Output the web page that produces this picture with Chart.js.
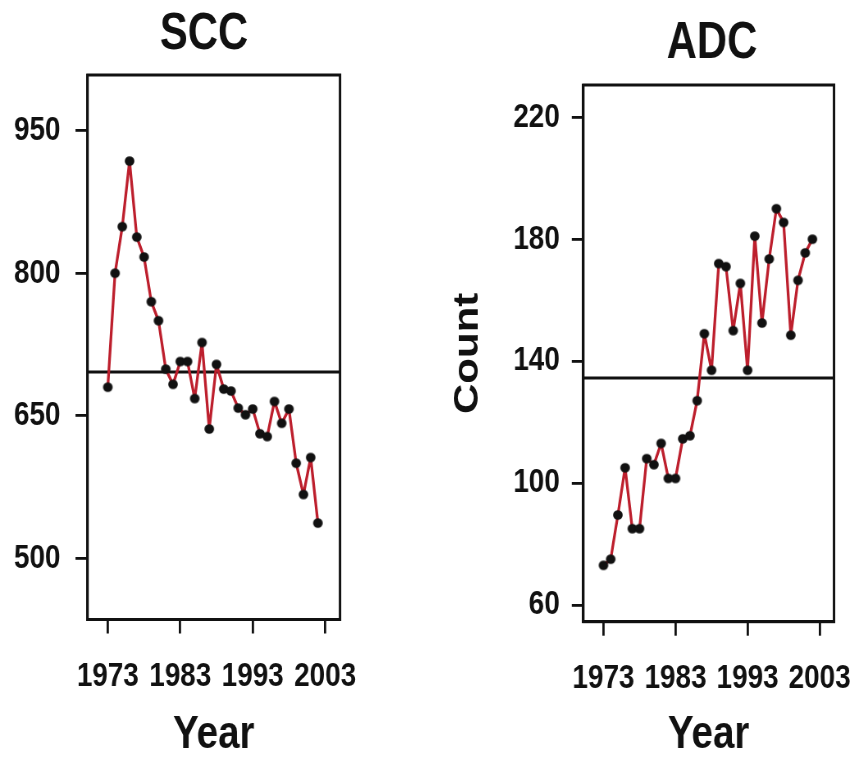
<!DOCTYPE html>
<html lang="en">
<head>
    <meta charset="UTF-8">
    <title>SCC and ADC counts by year</title>
    <style>
        body {
            margin: 0;
            background: #fff;
            overflow: hidden;
        }
        /* the original figure is horizontally compressed: draw wide, squeeze with CSS */
        .panel {
            position: absolute;
            top: 0;
            width: 520px;
            height: 757px;
            transform-origin: 0 0;
            transform: scaleX(0.82);
        }
        .panel canvas {
            display: block;
            width: 520px;
            height: 757px;
        }
        #sccPanel { left: 0; }
        #adcPanel { left: 426px; }
    </style>
    <script src="https://cdn.jsdelivr.net/npm/chart.js"></script>
</head>
<body>
    <div id="sccPanel" class="panel"><canvas id="sccChart" width="520" height="757"></canvas></div>
    <div id="adcPanel" class="panel"><canvas id="adcChart" width="520" height="757"></canvas></div>

    <script>
        // Data (one value per year)
        const years = [1973, 1974, 1975, 1976, 1977, 1978, 1979, 1980, 1981, 1982,
                       1983, 1984, 1985, 1986, 1987, 1988, 1989, 1990, 1991, 1992,
                       1993, 1994, 1995, 1996, 1997, 1998, 1999, 2000, 2001, 2002];
        const sccCounts = [680, 800, 849, 918, 838, 817, 770, 750, 699, 683,
                           707, 707, 668, 727, 636, 704, 678, 676, 658, 651,
                           657, 631, 628, 665, 642, 657, 600, 567, 606, 537];
        const adcCounts = [73, 75, 89.5, 105, 85, 85, 108, 106, 113, 101.5,
                           101.5, 114.5, 115.5, 127, 149, 137, 172, 171, 150, 165.5,
                           137, 181, 152.5, 173.5, 190, 185.5, 148.5, 166.5, 175.5, 180];
        // horizontal reference lines (series means)
        const sccMean = 696;
        const adcMean = 134.5;

        // tick labels
        const yearTicks = [1973, 1983, 1993, 2003];
        const sccTicks = [500, 650, 800, 950];
        const adcTicks = [60, 100, 140, 180, 220];

        const S = 0.82;          // horizontal squeeze, must match the CSS
        const W = 520;           // canvas width before squeeze
        const font = "'Liberation Sans', Arial, Helvetica, sans-serif";
        const ink = '#111';
        const lineRed = '#bd1f2d';

        // dot drawn wide so it comes out round after the squeeze
        function dotImage(r) {
            const c = document.createElement('canvas');
            c.width = Math.ceil(2 * r / S) + 2;
            c.height = Math.ceil(2 * r) + 2;
            const g = c.getContext('2d');
            g.fillStyle = ink;
            g.beginPath();
            g.ellipse(c.width / 2, c.height / 2, r / S, r, 0, 0, 2 * Math.PI);
            g.fill();
            return c;
        }
        const dot = dotImage(4.8);

        // panel title drawn above the box
        const panelTitle = {
            id: 'panelTitle',
            afterDraw(chart, args, opts) {
                const ctx = chart.ctx;
                ctx.save();
                ctx.font = 'bold 51px ' + font;
                ctx.fillStyle = ink;
                ctx.textAlign = 'center';
                ctx.textBaseline = 'middle';
                ctx.fillText(opts.text, opts.x, opts.y);
                ctx.restore();
            }
        };

        // closes the box on the top and right sides
        const frame = {
            id: 'frame',
            afterDatasetsDraw(chart) {
                const a = chart.chartArea;
                const ctx = chart.ctx;
                ctx.save();
                ctx.strokeStyle = ink;
                ctx.lineWidth = 3;
                ctx.strokeRect(a.left, a.top, a.right - a.left, a.bottom - a.top);
                ctx.restore();
            }
        };

        // p holds on-screen (squeezed) pixel positions; convert horizontals here
        function makePanel(id, p) {
            const pts = years.map((yr, i) => ({ x: yr, y: p.values[i] }));
            const meanPts = [{ x: p.xMin, y: p.mean }, { x: p.xMax, y: p.mean }];
            return new Chart(document.getElementById(id), {
                type: 'line',
                data: {
                    datasets: [
                        {
                            data: pts,
                            borderColor: lineRed,
                            borderWidth: 3.3,
                            borderJoinStyle: 'round',
                            pointStyle: dot,
                            pointRadius: 4.8,
                            tension: 0
                        },
                        {
                            data: meanPts,
                            borderColor: ink,
                            borderWidth: 3,
                            pointRadius: 0
                        }
                    ]
                },
                options: {
                    responsive: false,
                    animation: false,
                    devicePixelRatio: 1,
                    layout: { padding: { top: p.top, right: W - p.right / S, left: 0, bottom: 0 } },
                    plugins: {
                        legend: { display: false },
                        tooltip: { enabled: false },
                        panelTitle: { text: p.title, x: p.titleX / S, y: p.titleY }
                    },
                    scales: {
                        x: {
                            type: 'linear',
                            min: p.xMin,
                            max: p.xMax,
                            afterBuildTicks: s => { s.ticks = yearTicks.map(v => ({ value: v })); },
                            afterFit: s => {
                                s.height = 757 - p.bottom;
                                s.paddingLeft = 0;
                                s.paddingRight = 0;
                            },
                            ticks: {
                                callback: v => String(v),
                                color: ink,
                                padding: 23,
                                autoSkip: false,
                                maxRotation: 0,
                                font: { family: font, size: 34, weight: 'bold' }
                            },
                            grid: { drawOnChartArea: false, tickLength: 14, color: ink, lineWidth: 2.8 },
                            border: { display: true, color: ink, width: 3 },
                            title: {
                                display: true,
                                text: 'Year',
                                color: ink,
                                padding: { top: 0, bottom: 3 },
                                font: { family: font, size: 47, weight: 'bold', lineHeight: 0.8 }
                            }
                        },
                        y: {
                            min: p.yMin,
                            max: p.yMax,
                            afterBuildTicks: s => { s.ticks = p.yTicks.map(v => ({ value: v })); },
                            afterFit: s => {
                                s.width = p.left / S;
                                s.paddingTop = 0;
                                s.paddingBottom = 0;
                            },
                            ticks: {
                                color: ink,
                                padding: p.yPad / S,
                                font: { family: font, size: 34, weight: 'bold' }
                            },
                            grid: { drawOnChartArea: false, tickLength: p.yTickLen / S, color: ink, lineWidth: 2.8 },
                            border: { display: true, color: ink, width: 3 },
                            title: {
                                display: !!p.yTitle,
                                text: p.yTitle || '',
                                color: ink,
                                padding: { top: 42 / S - 21, bottom: 0 },
                                font: { family: font, size: 42, weight: 'bold', lineHeight: 1 }
                            }
                        }
                    }
                },
                plugins: [panelTitle, frame]
            });
        }

        // positions are measured inside each panel (right panel starts at 426px)
        makePanel('sccChart', {
            title: 'SCC', titleX: 204, titleY: 35,
            values: sccCounts, mean: sccMean,
            xMin: 1970.2, xMax: 2005.05,
            yMin: 435.5, yMax: 1008.6, yTicks: sccTicks,
            left: 87.5, right: 340, top: 75, bottom: 619.5,
            yPad: 15, yTickLen: 12
        });

        makePanel('adcChart', {
            title: 'ADC', titleX: 286, titleY: 44,
            values: adcCounts, mean: adcMean,
            xMin: 1970.2, xMax: 2005.0,
            yMin: 54.5, yMax: 230.6, yTicks: adcTicks,
            left: 157.3, right: 408, top: 85, bottom: 621.7,
            yPad: 12, yTickLen: 11.5, yTitle: 'Count'
        });
    </script>
</body>
</html>
